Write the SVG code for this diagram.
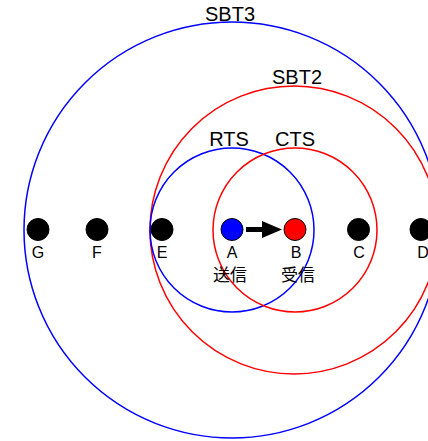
<svg xmlns="http://www.w3.org/2000/svg" width="428" height="441" viewBox="0 0 428 441">
  <style>
    .range { fill: none; stroke-width: 1.5; }
    .blue { stroke: #0000ff; }
    .red { stroke: #ff0000; }
    .lbl { font-family: "Liberation Sans", Arial, sans-serif; fill: #000; text-anchor: middle; }
    .big { font-size: 20px; }
    .small { font-size: 16px; }
    .jp { font-family: "Liberation Sans", "Noto Sans CJK JP", sans-serif; font-size: 17px; fill: #000; text-anchor: middle; }
    .node { stroke: #000; stroke-width: 1; }
  </style>
  <defs>
    <!-- head base sits at the line end, tip 20px beyond -->
    <marker id="head" viewBox="0 0 20 17" refX="1" refY="8.5" markerWidth="20" markerHeight="17" orient="auto" markerUnits="userSpaceOnUse">
      <path d="M0,0 L20,8.5 L0,17 Z" fill="#000"/>
    </marker>
  </defs>

  <rect width="428" height="441" fill="#fff"/>

  <!-- transmission ranges -->
  <g id="ranges">
    <circle class="range blue" cx="232" cy="230" r="208"/>
    <circle class="range red" cx="294" cy="230" r="144"/>
    <circle class="range blue" cx="232" cy="230" r="82"/>
    <circle class="range red" cx="295" cy="230" r="82"/>
  </g>

  <g id="range-labels">
    <text class="lbl big" x="230" y="21">SBT3</text>
    <text class="lbl big" x="297" y="84">SBT2</text>
    <text class="lbl big" x="229" y="146">RTS</text>
    <text class="lbl big" x="295" y="146">CTS</text>
  </g>

  <!-- connectors -->
  <g id="connectors">
    <line x1="246" y1="229.5" x2="263" y2="229.5" stroke="#000" stroke-width="5" marker-end="url(#head)"/>
  </g>

  <!-- stations -->
  <g id="node-G">
    <circle class="node" cx="38" cy="229.5" r="11" fill="#000"/>
    <text class="lbl small" x="38" y="258">G</text>
  </g>
  <g id="node-F">
    <circle class="node" cx="97" cy="229.5" r="11" fill="#000"/>
    <text class="lbl small" x="97" y="258">F</text>
  </g>
  <g id="node-E">
    <circle class="node" cx="162" cy="229.5" r="11" fill="#000"/>
    <text class="lbl small" x="162" y="258">E</text>
  </g>
  <g id="node-A">
    <circle class="node" cx="232" cy="229.5" r="11" fill="#0000ff"/>
    <text class="lbl small" x="232" y="258">A</text>
    <text class="jp" x="230" y="281">送信</text>
  </g>
  <g id="node-B">
    <circle class="node" cx="295" cy="229.5" r="11" fill="#ff0000"/>
    <text class="lbl small" x="296" y="258">B</text>
    <text class="jp" x="298" y="281">受信</text>
  </g>
  <g id="node-C">
    <circle class="node" cx="358.5" cy="229.5" r="11" fill="#000"/>
    <text class="lbl small" x="359" y="258">C</text>
  </g>
  <g id="node-D">
    <circle class="node" cx="421" cy="229.5" r="11" fill="#000"/>
    <text class="lbl small" x="423" y="258">D</text>
  </g>
</svg>
